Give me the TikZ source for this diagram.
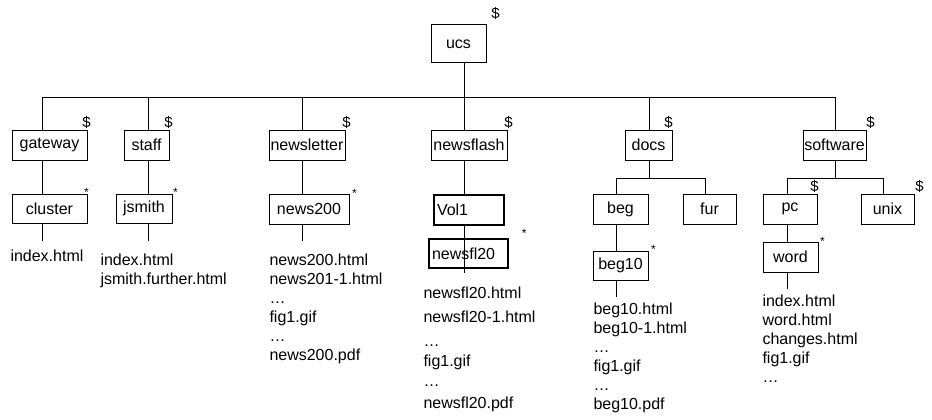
\documentclass[tikz,border=0pt]{standalone}
\usepackage{fontspec}
\setmainfont{Liberation Sans}
\usetikzlibrary{positioning}

\newcommand{\treefont}{\fontsize{16}{19}\selectfont}

\begin{document}
\begin{tikzpicture}[
    x=1pt, y=-1pt,
    line width=1pt,
    dirbox/.style={draw, fill=white, inner sep=0pt, minimum height=30pt, font=\treefont},
    volbox/.style={dirbox, fill=none, line width=2.4pt, align=left, inner xsep=3pt},
    filelist/.style={anchor=north west, inner sep=0pt, align=left, font=\treefont},
    dollar/.style={font=\fontsize{15}{15}\selectfont, inner sep=0pt},
    star/.style={font=\fontsize{12}{12}\selectfont, inner sep=0pt},
  ]
  \useasboundingbox (0,0) rectangle (932,420);

  % ---------- columns where the connectors run ----------
  \coordinate (gwX) at (42,0);
  \coordinate (stX) at (148,0);
  \coordinate (nlX) at (302,0);
  \coordinate (nfX) at (464,0);
  \coordinate (dcX) at (649,0);
  \coordinate (swX) at (835,0);
  \coordinate (begX) at (616,0);
  \coordinate (furX) at (705,0);
  \coordinate (pcX) at (787,0);
  \coordinate (unX) at (883,0);
  \coordinate (bus) at (0,97);
  \coordinate (split) at (0,178);

  % ---------- root ----------
  \node[dirbox, minimum width=55pt, minimum height=38pt] (ucs) at (458.5,44) {ucs};

  % ---------- first level ----------
  \node[dirbox, minimum width=75pt] (gateway) at (49.5,145) {gateway};
  \node[dirbox, minimum width=45pt] (staff) at (146.5,145) {staff};
  \node[dirbox, minimum width=76pt] (newsletter) at (307,145) {newsletter};
  \node[dirbox, minimum width=76pt] (newsflash) at (469,145) {newsflash};
  \node[dirbox, minimum width=47pt] (docs) at (648.5,145) {docs};
  \node[dirbox, minimum width=63pt] (software) at (834.5,145) {software};

  % ---------- second level ----------
  \node[dirbox, minimum width=75pt, minimum height=29pt] (cluster) at (49.5,208.5) {cluster};
  \node[dirbox, minimum width=56pt, minimum height=29pt] (jsmith) at (144,208.5) {jsmith};
  \node[dirbox, minimum width=80pt] (news200) at (309,209) {news200};
  \node[dirbox, minimum width=55pt] (beg) at (620.5,209) {beg};
  \node[dirbox, minimum width=53pt] (fur) at (709.5,209) {fur};
  \node[dirbox, minimum width=54pt] (pc) at (790,209) {pc};
  \node[dirbox, minimum width=53pt] (unix) at (887.5,209) {unix};

  % ---------- third level ----------
  \node[volbox, text width=73pt, minimum height=29pt] (newsfl20) at (468.5,253.5) {newsfl20};
  \node[dirbox, minimum width=55pt, minimum height=29pt] (beg10) at (620.5,265.5) {beg10};
  \node[dirbox, minimum width=55pt] (word) at (790.5,257) {word};

  % ---------- bus under the root ----------
  \draw (ucs.south -| nfX) -- (bus -| nfX);
  \draw (bus -| gwX) -- (bus -| swX);
  \foreach \n/\c in {gateway/gwX, staff/stX, newsletter/nlX, newsflash/nfX, docs/dcX, software/swX}
    \draw (bus -| \c) -- (\n.north -| \c);

  % ---------- parent to child ----------
  \foreach \p/\q/\c in {gateway/cluster/gwX, staff/jsmith/stX, newsletter/news200/nlX,
                        beg/beg10/begX, pc/word/pcX}
    \draw (\p.south -| \c) -- (\q.north -| \c);

  \draw (docs.south -| dcX) -- (split -| dcX);
  \draw (split -| begX) -- (split -| furX);
  \draw (split -| begX) -- (beg.north -| begX);
  \draw (split -| furX) -- (fur.north -| furX);

  \draw (software.south -| swX) -- (split -| swX);
  \draw (split -| pcX) -- (split -| unX);
  \draw (split -| pcX) -- (pc.north -| pcX);
  \draw (split -| unX) -- (unix.north -| unX);

  % newsflash line runs through newsfl20, Vol1 covers it
  \coordinate (nfEnd) at (464,273);
  \draw (newsflash.south -| nfX) -- (nfEnd);
  \node[volbox, fill=white, text width=64pt] (vol1) at (469,210) {Vol1};

  % ---------- stubs down to the file lists ----------
  \coordinate (clusterEnd) at (42,241);
  \coordinate (jsmithEnd) at (148,241);
  \coordinate (news200End) at (302,241);
  \coordinate (beg10End) at (616,297);
  \coordinate (wordEnd) at (787,289);
  \draw (cluster.south -| gwX) -- (clusterEnd);
  \draw (jsmith.south -| stX) -- (jsmithEnd);
  \draw (news200.south -| nlX) -- (news200End);
  \draw (beg10.south -| begX) -- (beg10End);
  \draw (word.south -| pcX) -- (wordEnd);

  % ---------- file lists ----------
  \node[filelist] (clusterFiles) at (10,249) {index.html};
  \node[filelist] (jsmithFiles) at (100,253) {index.html\\jsmith.further.html};
  \node[filelist] (news200Files) at (269,253)
    {news200.html\\news201-1.html\\\dots\\fig1.gif\\\dots\\news200.pdf};
  \node[filelist] (newsfl20Files) at (423,286)
    {newsfl20.html\\[5pt]newsfl20-1.html\\[5pt]\dots\\[1pt]fig1.gif\\[1pt]\dots\\[3pt]newsfl20.pdf};
  \node[filelist] (beg10Files) at (593,302)
    {beg10.html\\beg10-1.html\\\dots\\fig1.gif\\\dots\\beg10.pdf};
  \node[filelist] (wordFiles) at (762,294)
    {index.html\\word.html\\changes.html\\fig1.gif\\\dots};

  % ---------- $ and * marks ----------
  \foreach \n/\dx/\dy in {gateway/-1/7, staff/-1/7, newsletter/1/7, newsflash/1/7,
                          docs/-4/7, software/4/7, ucs/9/11, pc/-3/7, unix/5/7}
    \node[dollar] (\n-dollar) at ([xshift=\dx pt, yshift=\dy pt]\n.north east) {\$};
  \foreach \n/\dx/\dy in {cluster/-1/1, jsmith/3/1, news200/5/0, newsfl20/15/4,
                          beg10/5/1, word/4/0}
    \node[star] (\n-star) at ([xshift=\dx pt, yshift=\dy pt]\n.north east) {*};

\end{tikzpicture}
\end{document}
